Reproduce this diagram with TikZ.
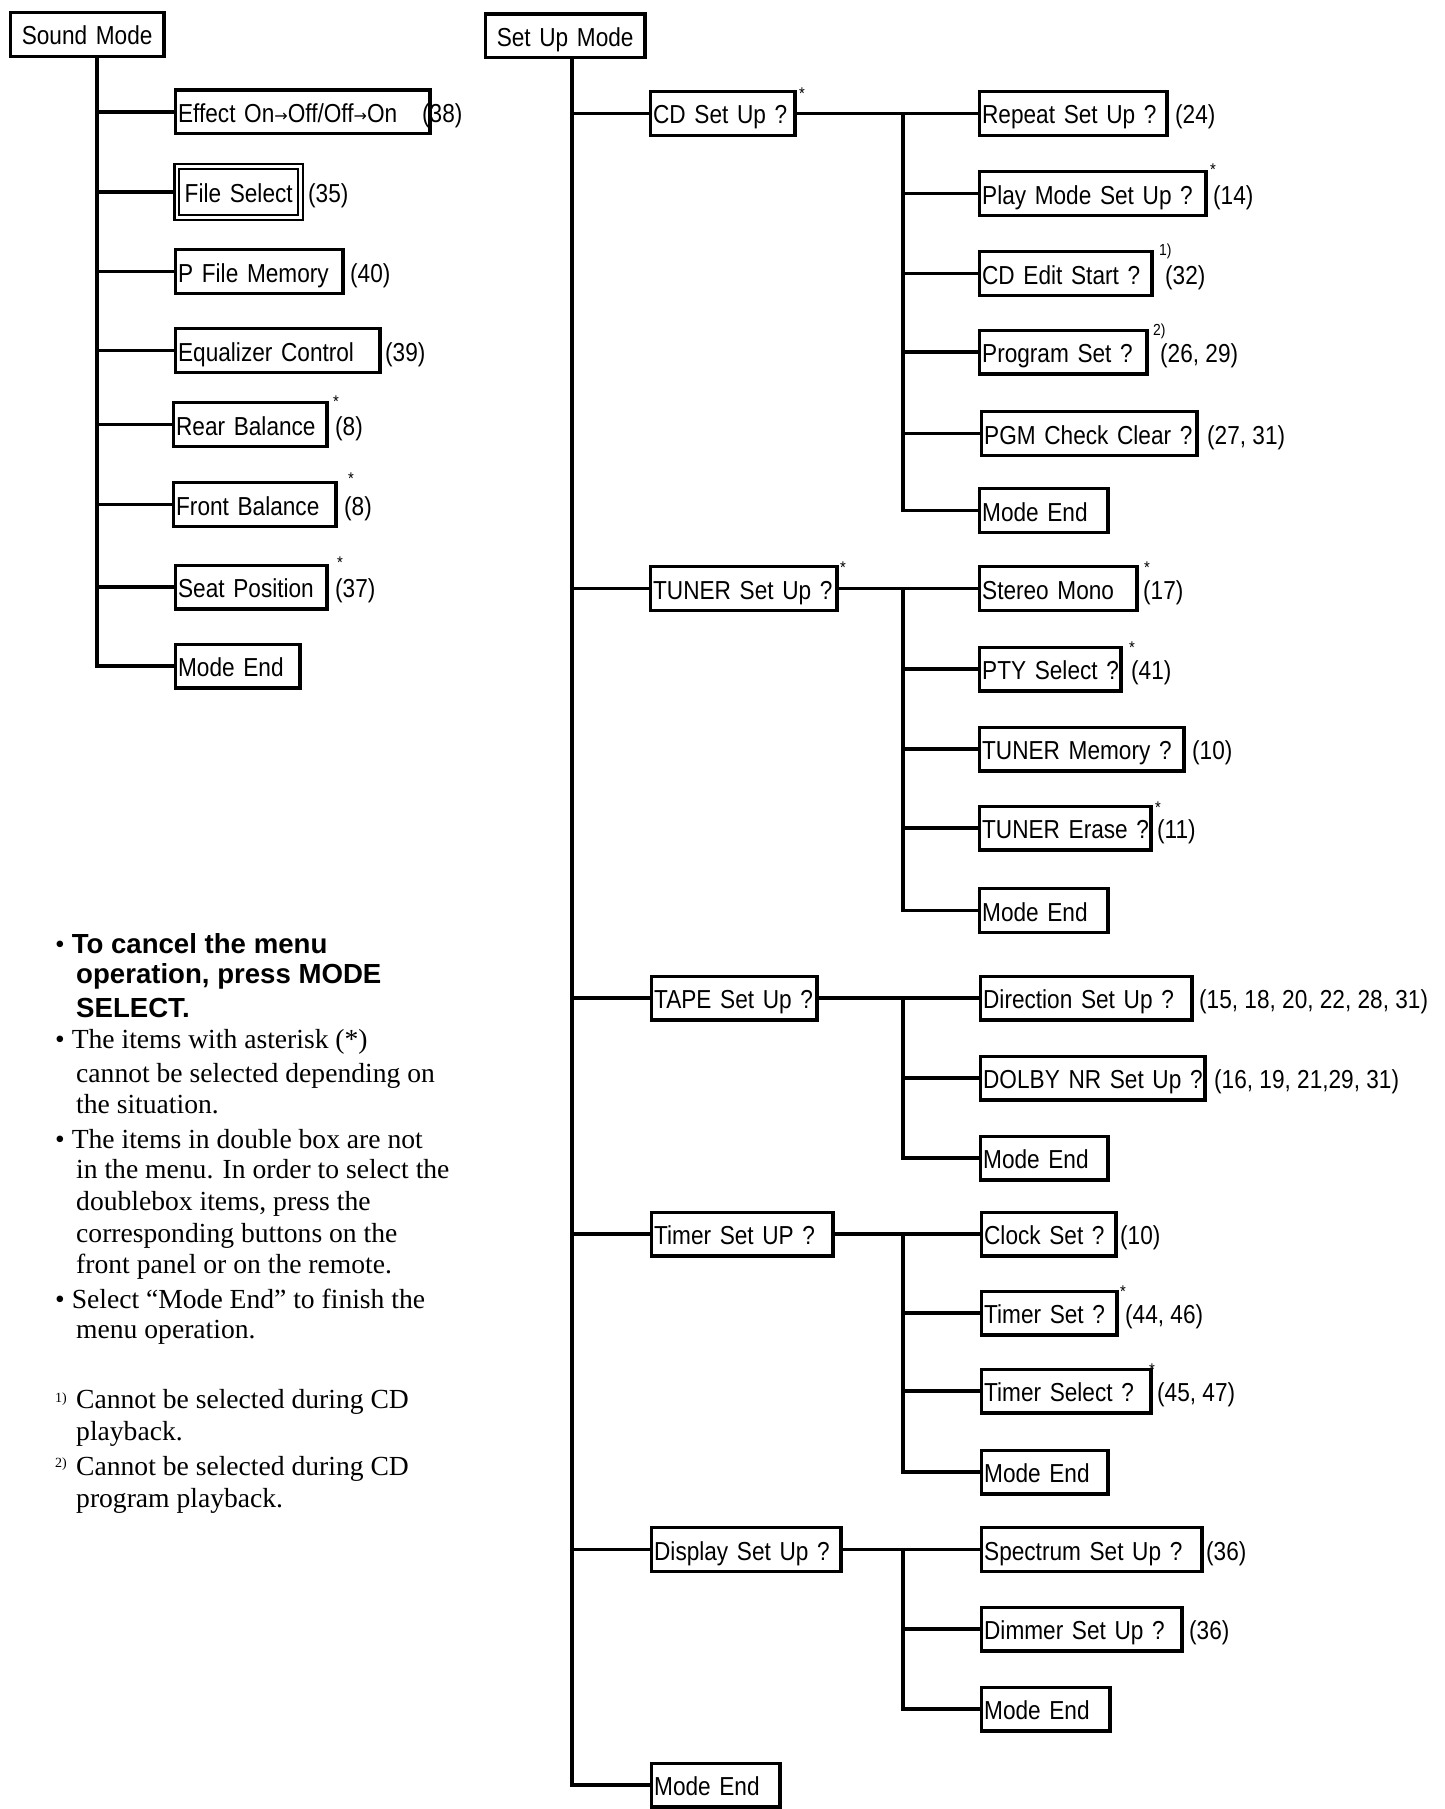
\documentclass[tikz,border=0pt]{standalone}
\usepackage{fontspec}
\setmainfont{Liberation Serif}
\newfontfamily\bxfamily[FakeStretch=0.87]{Liberation Sans}
\newfontfamily\nsans{Liberation Sans}
\newfontfamily\arfont{DejaVu Sans}
\newcommand\bxf{\bxfamily\fontsize{26}{28}\selectfont}
\newcommand\ntf{\fontsize{27.6}{31}\selectfont}
\newcommand\arr{\raisebox{1.2pt}{\arfont\fontsize{16}{16}\selectfont →}}
\tikzset{
  ln/.style={line width=3.6pt},
  mb/.style={draw, line width=3.4pt, anchor=west, minimum height=43.6pt, inner xsep=2.75pt, inner ysep=0pt, align=left, font=\bxf, text height=22.5pt, text depth=1.5pt},
  lbl/.style={anchor=base west, inner sep=0pt, font=\bxf},
  st/.style={anchor=north, inner sep=0pt, font=\bxfamily\fontsize{17}{17}\selectfont},
  sup/.style={anchor=base west, inner sep=0pt, font=\bxfamily\fontsize{16}{16}\selectfont},
  note/.style={anchor=base west, inner sep=0pt, font=\ntf},
}
% name, x1, x2, yc, text
\newcommand\bx[5]{\node[mb, text width=\the\dimexpr #3pt-#2pt-9pt\relax] (#1) at ({#2+1.7},#4) {\mbox{#5}};}
\newcommand\lb[4]{\node[lbl] (#1) at (#2,{#3+10.5}) {#4};}
\newcommand\stl[3]{\node[st] (#1) at (#2,#3) {*};}
\begin{document}
\begin{tikzpicture}[x=1pt,y=-1pt]
\useasboundingbox (0,0) rectangle (1445,1809);
% ---------------- Sound Mode ----------------
\node[mb, text width=148pt, align=center] (sm) at (8.7,34.5) {Sound Mode};
\bx{s1}{172}{430}{112}{Effect On\arr Off/Off\arr On}
\node[mb, line width=2.4pt, double, double distance=2.4pt, minimum height=50.8pt, text width=118.3pt, align=center] (s2) at (175.6,192) {File Select};
\bx{s3}{172}{343}{271.5}{P File Memory}
\bx{s4}{172}{380}{350.5}{Equalizer Control}
\bx{s5}{170}{327}{424.5}{Rear Balance}
\bx{s6}{170}{336}{504.5}{Front Balance}
\bx{s7}{172}{327}{587}{Seat Position}
\bx{s8}{172}{300}{666}{Mode End}
\lb{l1}{422}{112}{(38)}
\lb{l2}{308}{192}{(35)}
\lb{l3}{350}{271.5}{(40)}
\lb{l4}{385}{350.5}{(39)}
\lb{l5}{335}{424.5}{(8)}
\lb{l6}{344}{504.5}{(8)}
\lb{l7}{335}{587}{(37)}
\stl{a5}{336}{396}
\stl{a6}{351}{473}
\stl{a7}{340}{557}
\coordinate (LT) at (97,0);
\draw[ln] (LT |- sm.south) -- (LT |- s8.west) -- (s8.west);
\foreach \n in {s1,s2,s3,s4,s5,s6,s7} \draw[ln] (LT |- \n.west) -- (\n.west);
% ---------------- Set Up Mode ----------------
\node[mb, text width=154pt, align=center] (su) at (483.7,36) {Set Up Mode};
\bx{c0}{647}{795}{113.5}{CD Set Up ?}
\bx{t0}{647}{837}{588.5}{TUNER Set Up ?}
\bx{p0}{648}{817}{998}{TAPE Set Up ?}
\bx{m0}{648}{833}{1234}{Timer Set UP ?}
\bx{d0}{648}{841}{1549.5}{Display Set Up ?}
\bx{e0}{648}{780}{1785}{Mode End}
\stl{ac0}{802}{88}
\stl{at0}{843}{562}
\coordinate (MT) at (572,0);
\draw[ln] (MT |- su.south) -- (MT |- e0.west) -- (e0.west);
\foreach \n in {c0,t0,p0,m0,d0} \draw[ln] (MT |- \n.west) -- (\n.west);
\coordinate (ST) at (903,0);
% CD
\bx{c1}{976}{1167}{113.5}{Repeat Set Up ?}
\bx{c2}{976}{1206}{193.5}{Play Mode Set Up ?}
\bx{c3}{976}{1152}{273.5}{CD Edit Start ?}
\bx{c4}{976}{1147}{352}{Program Set ?}
\bx{c5}{978}{1197}{433.5}{PGM Check Clear ?}
\bx{c6}{976}{1108}{510.5}{Mode End}
\lb{lc1}{1175}{113.5}{(24)}
\lb{lc2}{1213}{193.5}{(14)}
\lb{lc3}{1165}{273.5}{(32)}
\lb{lc4}{1160}{352}{(26, 29)}
\lb{lc5}{1207}{433.5}{(27, 31)}
\stl{ac2}{1213}{164}
\node[sup] (fc3) at (1159,255) {1)};
\node[sup] (fc4) at (1153,335) {2)};
\draw[ln] (c0.east) -- (c1.west);
\draw[ln] (ST |- c1.west) -- (ST |- c6.west) -- (c6.west);
\foreach \n in {c2,c3,c4,c5} \draw[ln] (ST |- \n.west) -- (\n.west);
% TUNER
\bx{t1}{976}{1137}{588.5}{Stereo Mono}
\bx{t2}{976}{1121}{669}{PTY Select ?}
\bx{t3}{976}{1184}{749}{TUNER Memory ?}
\bx{t4}{976}{1151}{828}{TUNER Erase ?}
\bx{t5}{976}{1108}{910.5}{Mode End}
\lb{lt1}{1143}{588.5}{(17)}
\lb{lt2}{1131}{669}{(41)}
\lb{lt3}{1192}{749}{(10)}
\lb{lt4}{1157}{828}{(11)}
\stl{at1}{1147}{562}
\stl{at2}{1132}{642}
\stl{at4}{1158}{802}
\draw[ln] (t0.east) -- (t1.west);
\draw[ln] (ST |- t1.west) -- (ST |- t5.west) -- (t5.west);
\foreach \n in {t2,t3,t4} \draw[ln] (ST |- \n.west) -- (\n.west);
% TAPE
\bx{p1}{977}{1192}{998}{Direction Set Up ?}
\bx{p2}{977}{1205}{1078}{DOLBY NR Set Up ?}
\bx{p3}{977}{1108}{1158}{Mode End}
\lb{lp1}{1199}{998}{(15, 18, 20, 22, 28, 31)}
\lb{lp2}{1214}{1078}{(16, 19, 21,29, 31)}
\draw[ln] (p0.east) -- (p1.west);
\draw[ln] (ST |- p1.west) -- (ST |- p3.west) -- (p3.west);
\draw[ln] (ST |- p2.west) -- (p2.west);
% Timer
\bx{m1}{978}{1116}{1234}{Clock Set ?}
\bx{m2}{978}{1117}{1313}{Timer Set ?}
\bx{m3}{978}{1151}{1391}{Timer Select ?}
\bx{m4}{978}{1108}{1472}{Mode End}
\lb{lm1}{1120}{1234}{(10)}
\lb{lm2}{1125}{1313}{(44, 46)}
\lb{lm3}{1157}{1391}{(45, 47)}
\stl{am2}{1123}{1286}
\stl{am3}{1152}{1364}
\draw[ln] (m0.east) -- (m1.west);
\draw[ln] (ST |- m1.west) -- (ST |- m4.west) -- (m4.west);
\foreach \n in {m2,m3} \draw[ln] (ST |- \n.west) -- (\n.west);
% Display
\bx{d1}{978}{1202}{1549.5}{Spectrum Set Up ?}
\bx{d2}{978}{1182}{1629}{Dimmer Set Up ?}
\bx{d3}{978}{1110}{1709}{Mode End}
\lb{ld1}{1206}{1549.5}{(36)}
\lb{ld2}{1189}{1629}{(36)}
\draw[ln] (d0.east) -- (d1.west);
\draw[ln] (ST |- d1.west) -- (ST |- d3.west) -- (d3.west);
\draw[ln] (ST |- d2.west) -- (d2.west);
% ---------------- Notes ----------------
\node[note] (n1) at (55,953) {•\ {\nsans\bfseries To cancel the menu}};
\node[note, font=\nsans\bfseries\ntf] (n2) at (76,983) {operation, press MODE};
\node[note, font=\nsans\bfseries\ntf] (n3) at (76,1017) {SELECT.};
\node[note] (n4) at (55,1048) {• The items with asterisk (*)};
\node[note] (n5) at (76,1082) {cannot be selected depending on};
\node[note] (n6) at (76,1113) {the situation.};
\node[note] (n7) at (55,1148) {• The items in double box are not};
\node[note] (n8) at (76,1178) {in the menu. In order to select the};
\node[note] (n9) at (76,1210) {doublebox items, press the};
\node[note] (n10) at (76,1242) {corresponding buttons on the};
\node[note] (n11) at (76,1273) {front panel or on the remote.};
\node[note] (n12) at (55,1308) {• Select “Mode End” to finish the};
\node[note] (n13) at (76,1338) {menu operation.};
\node[note, font=\fontsize{14}{14}\selectfont] (f1) at (55,1402) {1)};
\node[note] (n14) at (76,1408) {Cannot be selected during CD};
\node[note] (n15) at (76,1440) {playback.};
\node[note, font=\fontsize{14}{14}\selectfont] (f2) at (55,1467) {2)};
\node[note] (n16) at (76,1475) {Cannot be selected during CD};
\node[note] (n17) at (76,1507) {program playback.};
\end{tikzpicture}
\end{document}
